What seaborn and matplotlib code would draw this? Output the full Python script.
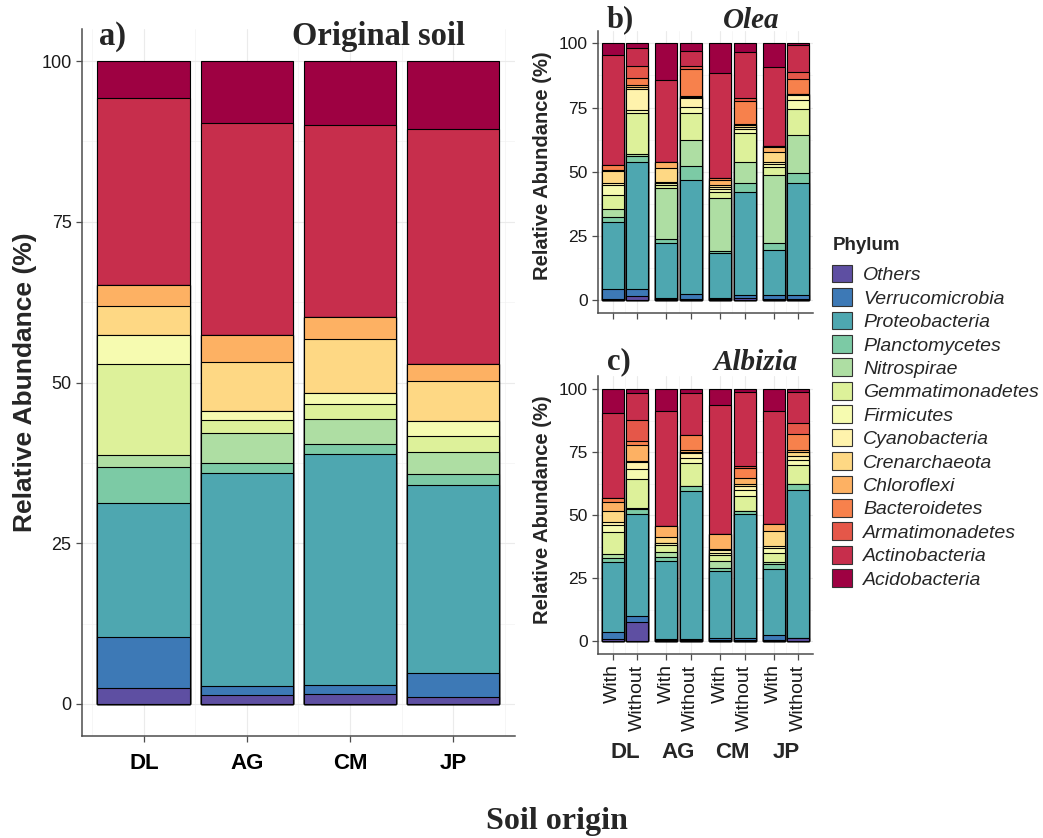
import numpy as np
import pandas as pd
import matplotlib
matplotlib.use('Agg')
import matplotlib.pyplot as plt
import matplotlib.transforms as mtransforms
import seaborn as sns
from matplotlib.colors import to_hex
from matplotlib.patches import Patch
from matplotlib.ticker import MultipleLocator

sns.set_style('white')
plt.rcParams['font.family'] = ['Liberation Sans', 'DejaVu Sans']

# stacking order, bottom -> top (legend lists them in this order too)
phyla = ['Others', 'Verrucomicrobia', 'Proteobacteria', 'Planctomycetes',
         'Nitrospirae', 'Gemmatimonadetes', 'Firmicutes', 'Cyanobacteria',
         'Crenarchaeota', 'Chloroflexi', 'Bacteroidetes', 'Armatimonadetes',
         'Actinobacteria', 'Acidobacteria']
soils = ['DL', 'AG', 'CM', 'JP']
treatments = ['With', 'Without']

# relative abundance (%) per phylum, same order as `phyla`
original = {
    'DL': [2.5, 7.9, 20.9, 5.6, 1.8, 14.2, 4.5, 0.0, 4.5, 3.3, 0.0, 0.0, 29.0, 5.8],
    'AG': [1.4, 1.4, 33.1, 1.6, 4.6, 2.1, 1.4, 0.0, 7.6, 4.2, 0.0, 0.0, 33.0, 9.6],
    'CM': [1.6, 1.3, 36.0, 1.5, 3.9, 2.4, 1.7, 0.0, 8.4, 3.4, 0.0, 0.0, 29.8, 10.0],
    'JP': [1.1, 3.7, 29.2, 1.7, 3.5, 2.5, 2.3, 0.0, 6.2, 2.7, 0.0, 0.0, 36.5, 10.6],
}
olea_with = {
    'DL': [0.5, 3.7, 26.1, 2.2, 3.0, 5.3, 4.0, 0.7, 4.8, 0.5, 1.7, 0.0, 43.0, 4.5],
    'AG': [0.5, 0.5, 21.3, 1.5, 19.7, 1.3, 0.9, 0.4, 5.5, 2.3, 0.0, 0.0, 31.8, 14.3],
    'CM': [0.5, 0.3, 17.4, 1.0, 20.7, 2.4, 0.8, 1.1, 0.6, 2.0, 0.7, 0.0, 40.8, 11.7],
    'JP': [0.3, 1.9, 17.3, 2.6, 26.6, 3.2, 1.1, 0.8, 4.0, 1.7, 0.6, 0.0, 30.5, 9.4],
}
olea_without = {
    'DL': [1.7, 2.8, 49.4, 2.2, 0.8, 15.8, 1.3, 8.1, 1.0, 0.5, 3.0, 4.6, 6.9, 1.9],
    'AG': [0.3, 2.0, 44.5, 5.4, 10.1, 10.7, 2.1, 3.5, 0.6, 0.4, 10.3, 1.3, 5.9, 2.9],
    'CM': [0.8, 1.1, 40.3, 3.3, 8.4, 11.3, 1.3, 1.0, 0.7, 0.4, 8.9, 1.1, 18.0, 3.4],
    'JP': [0.3, 1.9, 43.6, 3.9, 14.6, 10.0, 3.6, 1.8, 0.4, 0.0, 5.9, 2.7, 10.7, 0.6],
}
albizia_with = {
    'DL': [0.9, 2.8, 27.7, 1.8, 1.4, 8.9, 2.7, 0.9, 4.4, 3.9, 1.3, 0.0, 33.9, 9.4],
    'AG': [0.5, 0.4, 31.0, 1.5, 2.2, 2.7, 0.6, 0.0, 2.4, 4.5, 0.0, 0.0, 45.6, 8.6],
    'CM': [0.5, 0.8, 26.7, 0.9, 3.0, 2.4, 0.9, 0.8, 0.7, 5.8, 0.0, 0.0, 51.2, 6.3],
    'JP': [0.4, 2.2, 26.0, 2.0, 0.8, 3.8, 1.7, 1.0, 5.9, 2.6, 0.0, 0.0, 45.0, 8.6],
}
albizia_without = {
    'DL': [7.5, 2.4, 40.6, 2.1, 0.4, 11.4, 3.8, 2.8, 0.6, 6.2, 1.4, 8.5, 10.6, 1.7],
    'AG': [0.5, 0.4, 58.7, 2.0, 0.0, 9.0, 2.2, 1.7, 0.7, 0.7, 5.9, 0.0, 16.7, 1.5],
    'CM': [0.5, 0.8, 49.2, 1.3, 0.0, 5.9, 2.1, 1.9, 0.7, 2.2, 3.9, 0.8, 29.4, 1.3],
    'JP': [1.3, 0.2, 58.5, 2.3, 0.0, 7.6, 2.0, 1.7, 1.6, 0.7, 6.3, 4.2, 12.5, 1.1],
}

# Spectral ramp, first colour goes to the alphabetically first phylum
spectral = plt.get_cmap('Spectral')
pal = [to_hex(spectral(t)) for t in np.linspace(0, 1, len(phyla))]
colors = dict(zip(phyla[::-1], pal))

GAP = 2.2  # facet width in bar units (2 bars + ggplot expansion)


def long_table(tables):
    rows = []
    for pos, vals in tables:
        top = 0.0
        for ph, v in zip(phyla, vals):
            top += v
            rows.append([pos, ph, v, top])
    return pd.DataFrame(rows, columns=['pos', 'phylum', 'value', 'top'])


df_a = long_table([(i, original[s]) for i, s in enumerate(soils)])


def facet_table(with_, without):
    items = []
    for g, s in enumerate(soils):
        items.append((g * GAP, with_[s]))
        items.append((g * GAP + 1, without[s]))
    return long_table(items)


df_b = facet_table(olea_with, olea_without)
df_c = facet_table(albizia_with, albizia_without)


def draw_stack(ax, df):
    # draw cumulative heights from the top layer down, so each segment keeps its outline
    for ph in phyla[::-1]:
        sub = df[df.phylum == ph]
        sns.barplot(data=sub, x='pos', y='top', native_scale=True, orient='x',
                    color=colors[ph], saturation=1, width=0.9, errorbar=None,
                    edgecolor='black', linewidth=0.8, ax=ax)


def style_axis(ax, label_size, ylab_size):
    ax.set_ylim(-5, 105)
    ax.set_yticks([0, 25, 50, 75, 100])
    ax.yaxis.set_minor_locator(MultipleLocator(12.5))
    ax.set_axisbelow(True)
    ax.grid(True, which='major', color='#EBEBEB', linewidth=0.8)
    ax.grid(True, which='minor', color='#F3F3F3', linewidth=0.5)
    for side in ['top', 'right']:
        ax.spines[side].set_visible(False)
    for side in ['left', 'bottom']:
        ax.spines[side].set_color('#4D4D4D')
        ax.spines[side].set_linewidth(1.1)
    ax.tick_params(which='major', length=4, width=0.9, color='#4D4D4D',
                   labelsize=label_size, labelcolor='#1A1A1A', direction='out',
                   left=True, bottom=True)
    ax.tick_params(which='minor', length=0)
    ax.set_xlabel('')
    ax.set_ylabel('Relative Abundance (%)', fontsize=ylab_size, fontweight='bold')


fig = plt.figure(figsize=(10.43, 8.38), dpi=100)
ax_a = fig.add_axes([0.0786, 0.1217, 0.4151, 0.8437])
ax_b = fig.add_axes([0.5733, 0.6265, 0.2061, 0.3371])
ax_c = fig.add_axes([0.5733, 0.2196, 0.2061, 0.3313])

# panel a
draw_stack(ax_a, df_a)
style_axis(ax_a, 13, 19)
ax_a.set_xlim(-0.6, 3.6)
ax_a.set_xticks(range(len(soils)))
ax_a.set_xticklabels(soils, fontsize=16, fontweight='bold', color='black')
ax_a.xaxis.set_minor_locator(MultipleLocator(0.5))
ax_a.tick_params(axis='x', pad=8)
ax_a.yaxis.set_label_coords(-0.103, 0.5)

# panels b and c
bar_pos = [g * GAP + t for g in range(len(soils)) for t in range(len(treatments))]
mid_pos = [g * GAP + 0.5 for g in range(len(soils))]
for ax, df in [(ax_b, df_b), (ax_c, df_c)]:
    draw_stack(ax, df)
    style_axis(ax, 12.5, 14.5)
    ax.set_xlim(-0.6, len(soils) * GAP - 0.6)
    ax.set_xticks(bar_pos)
    ax.set_xticks(mid_pos, minor=True)
    ax.yaxis.set_label_coords(-0.212, 0.52)
ax_b.set_xticklabels([])
ax_c.set_xticklabels(treatments * len(soils), rotation=90, fontsize=14,
                     va='top', ha='center')

trans = mtransforms.blended_transform_factory(ax_c.transData, fig.transFigure)
for m, s in zip(mid_pos, soils):
    ax_c.text(m, 1 - 753 / 838, s, transform=trans, ha='center', va='center',
              fontsize=16, fontweight='bold')

# panel titles
serif = ['Liberation Serif', 'DejaVu Serif']
fig.text(99 / 1043, 1 - 37 / 838, 'a)', family=serif, fontsize=23.5, fontweight='bold',
         ha='left', va='center')
fig.text(292 / 1043, 1 - 37 / 838, 'Original soil', family=serif, fontsize=23.5,
         fontweight='bold', ha='left', va='center')
fig.text(607 / 1043, 1 - 20 / 838, 'b)', family=serif, fontsize=22, fontweight='bold',
         ha='left', va='center')
fig.text(751 / 1043, 1 - 20 / 838, 'Olea', family=serif, fontsize=21, fontweight='bold',
         style='italic', ha='center', va='center')
fig.text(607 / 1043, 1 - 362 / 838, 'c)', family=serif, fontsize=22, fontweight='bold',
         ha='left', va='center')
fig.text(756 / 1043, 1 - 362 / 838, 'Albizia', family=serif, fontsize=21,
         fontweight='bold', style='italic', ha='center', va='center')
fig.text(557 / 1043, 1 - 821 / 838, 'Soil origin', family=serif, fontsize=23,
         fontweight='bold', ha='center', va='center')

# legend (title drawn on its own to match the gap above the keys)
fig.text(833 / 1043, 1 - 245 / 838, 'Phylum', fontsize=13.5, fontweight='bold',
         ha='left', va='center')
handles = [Patch(facecolor=colors[ph], edgecolor='#333333', linewidth=0.8, label=ph)
           for ph in phyla]
fig.legend(handles=handles, loc='upper left', bbox_to_anchor=(0.7805, 0.705),
           frameon=False, prop={'style': 'italic', 'size': 14},
           handlelength=1.03, handleheight=1.03, handletextpad=0.6,
           labelspacing=0.2, borderpad=0.4)

fig.savefig('out.png', dpi=100)
